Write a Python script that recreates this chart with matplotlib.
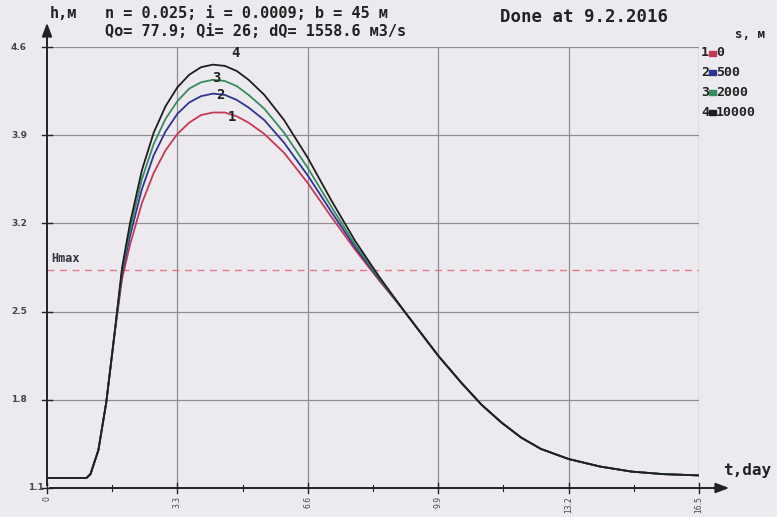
import matplotlib
matplotlib.use("Agg")
import matplotlib.pyplot as plt
from matplotlib.patches import Rectangle

# ---- data ----
t = [0, 0.5, 1.0, 1.1, 1.3, 1.5, 1.7, 1.9, 2.1, 2.4, 2.7, 3.0, 3.3, 3.6, 3.9, 4.2, 4.5,
     4.8, 5.1, 5.5, 6.0, 6.6, 7.2, 7.8, 8.4, 9.0, 9.9, 10.5, 11.0, 11.5, 12.0, 12.5,
     13.2, 14.0, 14.8, 15.6, 16.5]
tail = [2.52, 2.15, 1.93, 1.76, 1.62, 1.50, 1.41, 1.33, 1.27, 1.23, 1.21, 1.20]
rise = [1.18, 1.18, 1.18, 1.21, 1.40, 1.78, 2.30]
h1 = rise + [2.76, 3.03, 3.36, 3.60, 3.78, 3.91, 4.00, 4.06, 4.08, 4.08, 4.05, 4.00,
             3.91, 3.76, 3.52, 3.25, 2.99, 2.75] + tail
h2 = rise + [2.80, 3.10, 3.47, 3.74, 3.93, 4.07, 4.16, 4.21, 4.23, 4.22, 4.18, 4.12,
             4.02, 3.84, 3.58, 3.29, 3.01, 2.76] + tail
h3 = rise + [2.83, 3.15, 3.55, 3.83, 4.03, 4.17, 4.27, 4.32, 4.34, 4.33, 4.29, 4.22,
             4.11, 3.92, 3.64, 3.33, 3.03, 2.77] + tail
h4 = rise + [2.85, 3.20, 3.62, 3.92, 4.13, 4.28, 4.38, 4.44, 4.46, 4.45, 4.41, 4.34,
             4.22, 4.02, 3.72, 3.38, 3.06, 2.78] + tail
series = [h1, h2, h3, h4]
series_ids = ["1", "2", "3", "4"]
s_values = ["0", "500", "2000", "10000"]
colors = ["#c23a55", "#2e3590", "#3a8a5e", "#1e1e1e"]
label_pos = [(4.68, 3.99), (4.40, 4.16), (4.28, 4.30), (4.78, 4.50)]
hmax = 2.83
xticks = [0, 3.3, 6.6, 9.9, 13.2, 16.5]
xtick_labels = ["0", "3.3", "6.6", "9.9", "13.2", "16.5"]
yticks = [1.1, 1.8, 2.5, 3.2, 3.9, 4.6]
ytick_labels = ["1.1", "1.8", "2.5", "3.2", "3.9", "4.6"]

W, H = 777, 517
bg = "#eceaef"
mono = "DejaVu Sans Mono"

fig = plt.figure(figsize=(W / 100, H / 100), dpi=100, facecolor=bg)
L, R, B, T = 47, 699, 488, 47
ax = fig.add_axes([L / W, 1 - B / H, (R - L) / W, (B - T) / H], facecolor=bg)
ax.set_xlim(0, 16.5)
ax.set_ylim(1.1, 4.6)
for sp in ax.spines.values():
    sp.set_visible(False)
ax.set_xticks([])
ax.set_yticks([])

# grid
for x in xticks[1:]:
    ax.axvline(x, color="#8e8e92", lw=0.9, zorder=1)
for y in yticks[1:]:
    ax.axhline(y, color="#8e8e92", lw=0.9, zorder=1)

# Hmax
ax.plot([0, 16.5], [hmax, hmax], ls=(0, (5, 4)), color="#e07a8a", lw=1.0, zorder=2)
ax.text(0.1, hmax + 0.04, "Hmax", fontsize=8.5, fontweight="bold", family=mono,
        color="#333340", va="bottom", ha="left")

# curves
for h, c in zip(series, colors):
    ax.plot(t, h, color=c, lw=1.3, zorder=3)
for (x, y), lab in zip(label_pos, series_ids):
    ax.text(x, y, lab, fontsize=10, fontweight="bold", family=mono, color="#222222",
            ha="center", va="bottom", zorder=4)

# axes with arrows
ax.annotate("", xy=(1.0 + 33 / (R - L), 0), xytext=(0, 0), xycoords="axes fraction",
            arrowprops=dict(arrowstyle="-|>,head_length=0.8,head_width=0.3",
                            color="#222222", lw=1.4), annotation_clip=False)
ax.annotate("", xy=(0, 1.0 + 27 / (B - T)), xytext=(0, 0), xycoords="axes fraction",
            arrowprops=dict(arrowstyle="-|>,head_length=0.8,head_width=0.3",
                            color="#222222", lw=1.4), annotation_clip=False)

# ticks
for i, x in enumerate(xticks):
    ax.plot([x, x], [1.1 - 0.04, 1.1 + 0.04], color="#222222", lw=1.0, clip_on=False)
    if i < len(xticks) - 1:
        m = (x + xticks[i + 1]) / 2
        ax.plot([m, m], [1.1 - 0.025, 1.1 + 0.025], color="#222222", lw=0.8, clip_on=False)
for y in yticks:
    ax.plot([-0.12, 0.12], [y, y], color="#222222", lw=1.0, clip_on=False)

# tick labels
for x, lab in zip(xticks, xtick_labels):
    px = L + (R - L) * x / 16.5
    fig.text(px / W, 1 - 496 / H, lab, rotation=90, ha="center", va="top",
             fontsize=5.5, color="#444450")
for y, lab in zip(yticks, ytick_labels):
    py = B - (B - T) * (y - 1.1) / 3.5
    xx = 28 if lab == "1.1" else 11
    fig.text(xx / W, 1 - py / H, lab, ha="left", va="center", fontsize=6.5,
             fontweight="bold", color="#444450")

# header texts
fig.text(50 / W, 1 - 14 / H, "h,м", fontsize=11, fontweight="bold", family=mono,
         color="#222222", va="center")
fig.text(105 / W, 1 - 14 / H, "n = 0.025; i = 0.0009; b = 45 м", fontsize=11,
         fontweight="bold", family=mono, color="#222222", va="center")
fig.text(105 / W, 1 - 32 / H, "Qo= 77.9; Qi= 26; dQ= 1558.6 м3/s", fontsize=11,
         fontweight="bold", family=mono, color="#222222", va="center")
fig.text(500 / W, 1 - 17 / H, "Done at 9.2.2016", fontsize=12.5,
         fontweight="bold", family=mono, color="#222222", va="center")
fig.text(735 / W, 1 - 34 / H, "s, м", fontsize=9, fontweight="bold", family=mono,
         color="#222222", va="center")
fig.text(723 / W, 1 - 471 / H, "t,day", fontsize=11.5, fontweight="bold", family=mono,
         color="#222222", va="center")

# legend
for k, (num, val, c) in enumerate(zip(series_ids, s_values, colors)):
    py = 53 + k * 19.7
    fig.text(701 / W, 1 - py / H, num, fontsize=9.5, fontweight="bold", family=mono,
             color="#222222", va="center")
    fig.patches.append(Rectangle((709 / W, 1 - (py + 2.5) / H), 7 / W, 5 / H,
                                 transform=fig.transFigure, color=c))
    fig.text(716 / W, 1 - py / H, val, fontsize=9.5, fontweight="bold", family=mono,
             color="#222222", va="center")

fig.savefig("out.png", dpi=100, facecolor=bg)
